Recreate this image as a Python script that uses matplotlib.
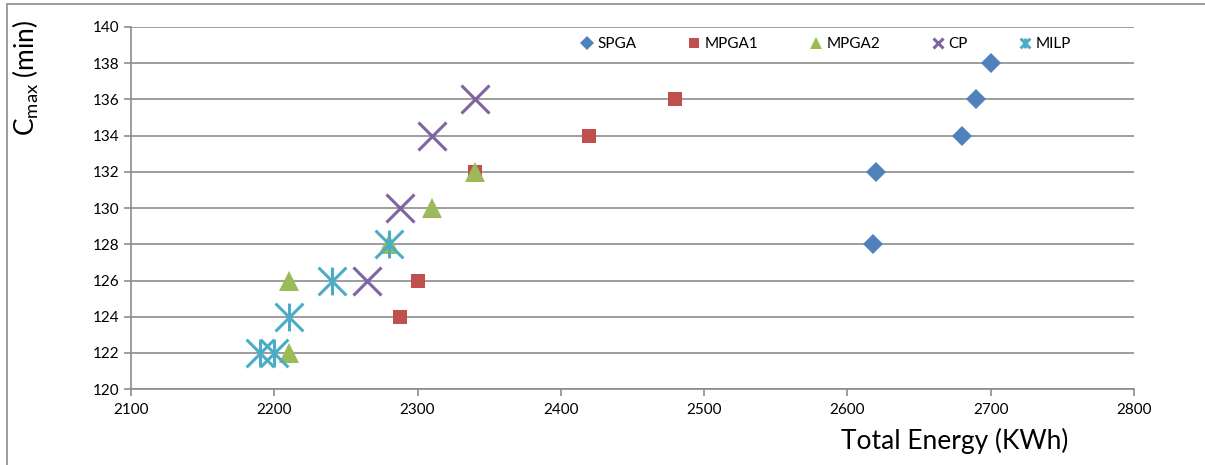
import matplotlib
matplotlib.use('Agg')
import matplotlib.pyplot as plt
from matplotlib.path import Path
from matplotlib.lines import Line2D
from matplotlib.patches import Rectangle

plt.rcParams['font.family'] = ['Lato', 'DejaVu Sans']
plt.rcParams['mathtext.default'] = 'regular'

# data
spga_x = [2700, 2690, 2680, 2620, 2618]
spga_y = [138, 136, 134, 132, 128]
mpga1_x = [2480, 2420, 2340, 2300, 2288]
mpga1_y = [136, 134, 132, 126, 124]
mpga2_x = [2340, 2310, 2280, 2210, 2210]
mpga2_y = [132, 130, 128, 126, 122]
cp_x = [2340, 2310, 2288, 2265]
cp_y = [136, 134, 130, 126]
milp_x = [2280, 2240, 2210, 2190, 2200]
milp_y = [128, 126, 124, 122, 122]

# Excel style star: an X with a vertical bar through it
star = Path([(-1, -1), (1, 1), (-1, 1), (1, -1), (0, -1), (0, 1)],
            [Path.MOVETO, Path.LINETO, Path.MOVETO, Path.LINETO, Path.MOVETO, Path.LINETO])

series = [
    ('SPGA', spga_x, spga_y, dict(marker='D', color='#4F81BD', ms=10, mew=0)),
    ('MPGA1', mpga1_x, mpga1_y, dict(marker='s', color='#C0504D', ms=10.5, mew=0)),
    ('MPGA2', mpga2_x, mpga2_y, dict(marker='^', color='#9BBB59', ms=14, mew=0)),
    ('CP', cp_x, cp_y, dict(marker='x', color='#8064A2', ms=20, mew=2.2)),
    ('MILP', milp_x, milp_y, dict(marker=star, color='#4BACC6', ms=20, mew=2.2)),
]
legend_ms = {'SPGA': 7, 'MPGA1': 7.5, 'MPGA2': 8.5, 'CP': 7, 'MILP': 7}

fig = plt.figure(figsize=(12.05, 4.65), dpi=100)
ax = fig.add_axes([0.1087, 0.163, 0.8323, 0.779])

handles = []
for name, xs, ys, st in series:
    ax.plot(xs, ys, linestyle='none', **st)
    hs = dict(st)
    hs['ms'] = legend_ms[name]
    hs['mew'] = 2.2 if st['mew'] else 0
    handles.append(Line2D([], [], linestyle='none', label=name, **hs))

ax.set_xlim(2100, 2800)
ax.set_ylim(120, 140)
ax.set_xticks(range(2100, 2801, 100))
ax.set_yticks(range(120, 141, 2))
ax.yaxis.grid(True, color='#8c8c8c', linewidth=1.2)
ax.set_axisbelow(True)
for s in ['top', 'right']:
    ax.spines[s].set_visible(False)
for s in ['left', 'bottom']:
    ax.spines[s].set_color('#8c8c8c')
    ax.spines[s].set_linewidth(1.2)
ax.tick_params(axis='both', colors='#8c8c8c', labelcolor='black', labelsize=11,
               length=5, width=1.2)
ax.tick_params(axis='x', pad=5)

ax.set_xlabel('Total Energy (KWh)', fontsize=19)
ax.xaxis.set_label_coords(0.8215, -0.108)
ax.set_ylabel('C$_{max}$ (min)', fontsize=19)
ax.yaxis.set_label_coords(-0.09, 0.86)

ax.legend(handles=handles, ncol=5, loc='upper right', bbox_to_anchor=(0.951, 1.01),
          frameon=False, fontsize=11, handlelength=0.8, handletextpad=0.3,
          columnspacing=3.35)

# chart area border
fig.patches.append(Rectangle((0.006, -0.5), 2, 0.5 + 0.991, transform=fig.transFigure,
                             fill=False, edgecolor='#8c8c8c', linewidth=1.2))

fig.savefig('out.png', dpi=100)
